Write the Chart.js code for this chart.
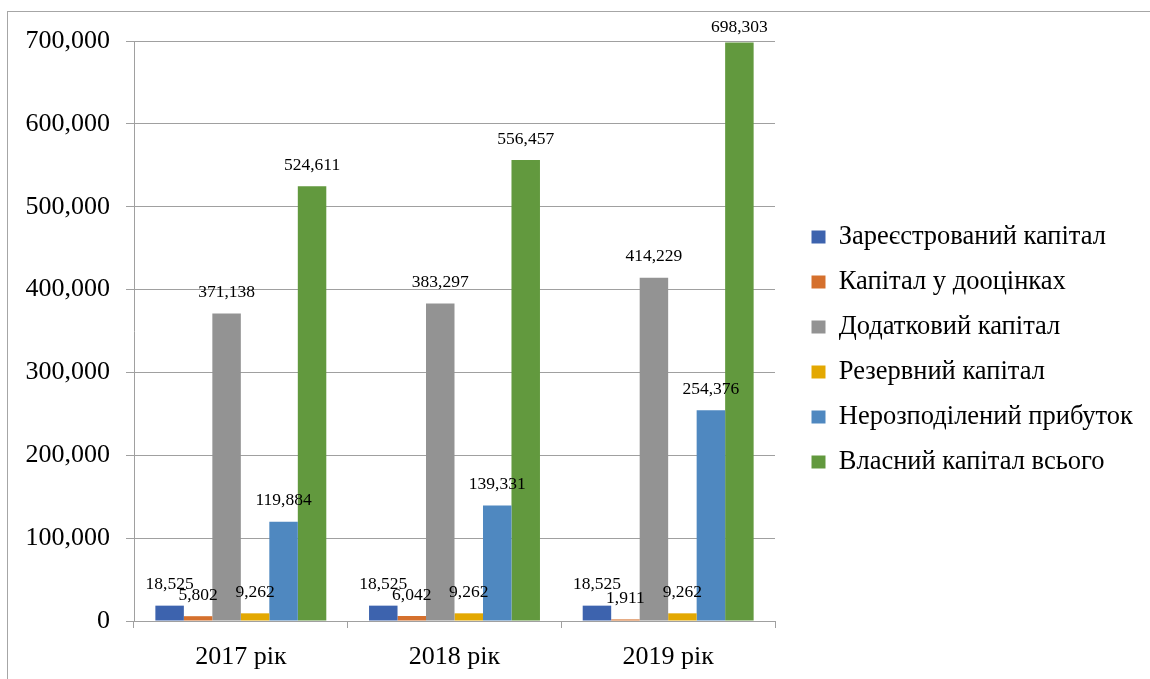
<!DOCTYPE html>
<html>
<head>
<meta charset="utf-8">
<script src="https://cdn.jsdelivr.net/npm/chart.js@4.4.1/dist/chart.umd.min.js"></script>
<style>
  html, body { margin: 0; padding: 0; background: #fff; overflow: hidden; }
  #frame { position: absolute; left: 7px; top: 11px; width: 1200px; height: 720px; border: 1px solid #a6a6a6; }
  #chart { position: absolute; left: 0; top: 0; }
</style>
</head>
<body>
<div id="frame"></div>
<canvas id="chart" width="1150" height="679"></canvas>
<script>
// categories and series
var years = ['2017 рік', '2018 рік', '2019 рік'];
var seriesNames = [
    'Зареєстрований капітал',
    'Капітал у дооцінках',
    'Додатковий капітал',
    'Резервний капітал',
    'Нерозподілений прибуток',
    'Власний капітал всього'
];
var registered   = [18525, 18525, 18525];
var revaluation  = [5802, 6042, 1911];
var additional   = [371138, 383297, 414229];
var reserve      = [9262, 9262, 9262];
var retained     = [119884, 139331, 254376];
var equityTotal  = [524611, 556457, 698303];
var yTicks = [0, 100000, 200000, 300000, 400000, 500000, 600000, 700000];

var seriesColors = ['#3d63ae', '#d5702d', '#939393', '#e3a802', '#4f88c0', '#62993e'];
var seriesData = [registered, revaluation, additional, reserve, retained, equityTotal];

var serif = '"Liberation Serif", "Times New Roman", serif';
Chart.defaults.font.family = serif;
Chart.defaults.color = '#000';

// legend geometry (Chart.js adds 10px to a vertical legend's width)
var legendFont = 26.5, legendPad = 18.5, legendBox = 14, legendLeft = 793, plotRight = 775;
var mctx = document.createElement('canvas').getContext('2d');
mctx.font = legendFont + 'px ' + serif;
var maxText = 0;
seriesNames.forEach(function (n) { maxText = Math.max(maxText, mctx.measureText(n).width); });
var legendWidth = legendPad + legendBox + legendFont / 2 + maxText + 10;
var padRight = Math.max(0, 1150 - legendLeft - legendWidth);

// value labels above each bar, kept from running off the top of the canvas
var barLabels = {
    id: 'barLabels',
    afterDatasetsDraw: function (chart) {
        var ctx = chart.ctx;
        var minY = chart.chartArea.top - 14;
        ctx.save();
        ctx.font = '17.5px ' + serif;
        ctx.fillStyle = '#000';
        ctx.textAlign = 'center';
        ctx.textBaseline = 'middle';
        chart.data.datasets.forEach(function (ds, i) {
            chart.getDatasetMeta(i).data.forEach(function (bar, j) {
                ctx.fillText(ds.data[j].toLocaleString('en-US'), bar.x, Math.max(bar.y - 21, minY));
            });
        });
        ctx.restore();
    }
};

var datasets = seriesNames.map(function (name, i) {
    return {
        label: name,
        data: seriesData[i],
        backgroundColor: seriesColors[i],
        borderWidth: 0,
        categoryPercentage: 0.8,
        barPercentage: 1.0
    };
});

var emptyAxis = {
    type: 'linear',
    display: true,
    grid: { display: false },
    border: { display: false },
    ticks: { display: false }
};

new Chart(document.getElementById('chart'), {
    type: 'bar',
    data: { labels: years, datasets: datasets },
    plugins: [barLabels],
    options: {
        responsive: false,
        devicePixelRatio: 1,
        animation: false,
        layout: { padding: { top: 20, left: 0, right: padRight, bottom: 0 } },
        plugins: {
            tooltip: { enabled: false },
            legend: {
                position: 'right',
                align: 'center',
                maxWidth: 600,
                labels: {
                    boxWidth: legendBox,
                    boxHeight: 13,
                    padding: legendPad,
                    color: '#000',
                    font: { size: legendFont, family: serif }
                }
            }
        },
        scales: {
            x: {
                grid: { display: true, drawOnChartArea: false, drawTicks: true, tickLength: 7, color: '#a0a0a0', offset: true },
                border: { display: true, color: '#a0a0a0' },
                ticks: { font: { size: 26 }, padding: 14, maxRotation: 0, autoSkip: false, color: '#000' },
                afterFit: function (s) { s.height = 58; }
            },
            y: {
                min: yTicks[0],
                max: yTicks[yTicks.length - 1],
                grid: { color: '#a0a0a0', lineWidth: 1, tickLength: 8 },
                border: { display: true, color: '#a0a0a0' },
                ticks: {
                    stepSize: yTicks[1] - yTicks[0],
                    padding: 16,
                    font: { size: 26 },
                    color: '#000',
                    callback: function (v) { return v.toLocaleString('en-US'); }
                },
                afterFit: function (s) { s.width = 134; }
            },
            // empty spacers between the plot and the legend / top edge
            gapRight: Object.assign({}, emptyAxis, {
                position: 'right',
                afterFit: function (s) { s.width = legendLeft - plotRight; }
            }),
            gapTop: Object.assign({}, emptyAxis, {
                position: 'top',
                afterFit: function (s) { s.height = 21; }
            })
        }
    }
});
</script>
</body>
</html>
